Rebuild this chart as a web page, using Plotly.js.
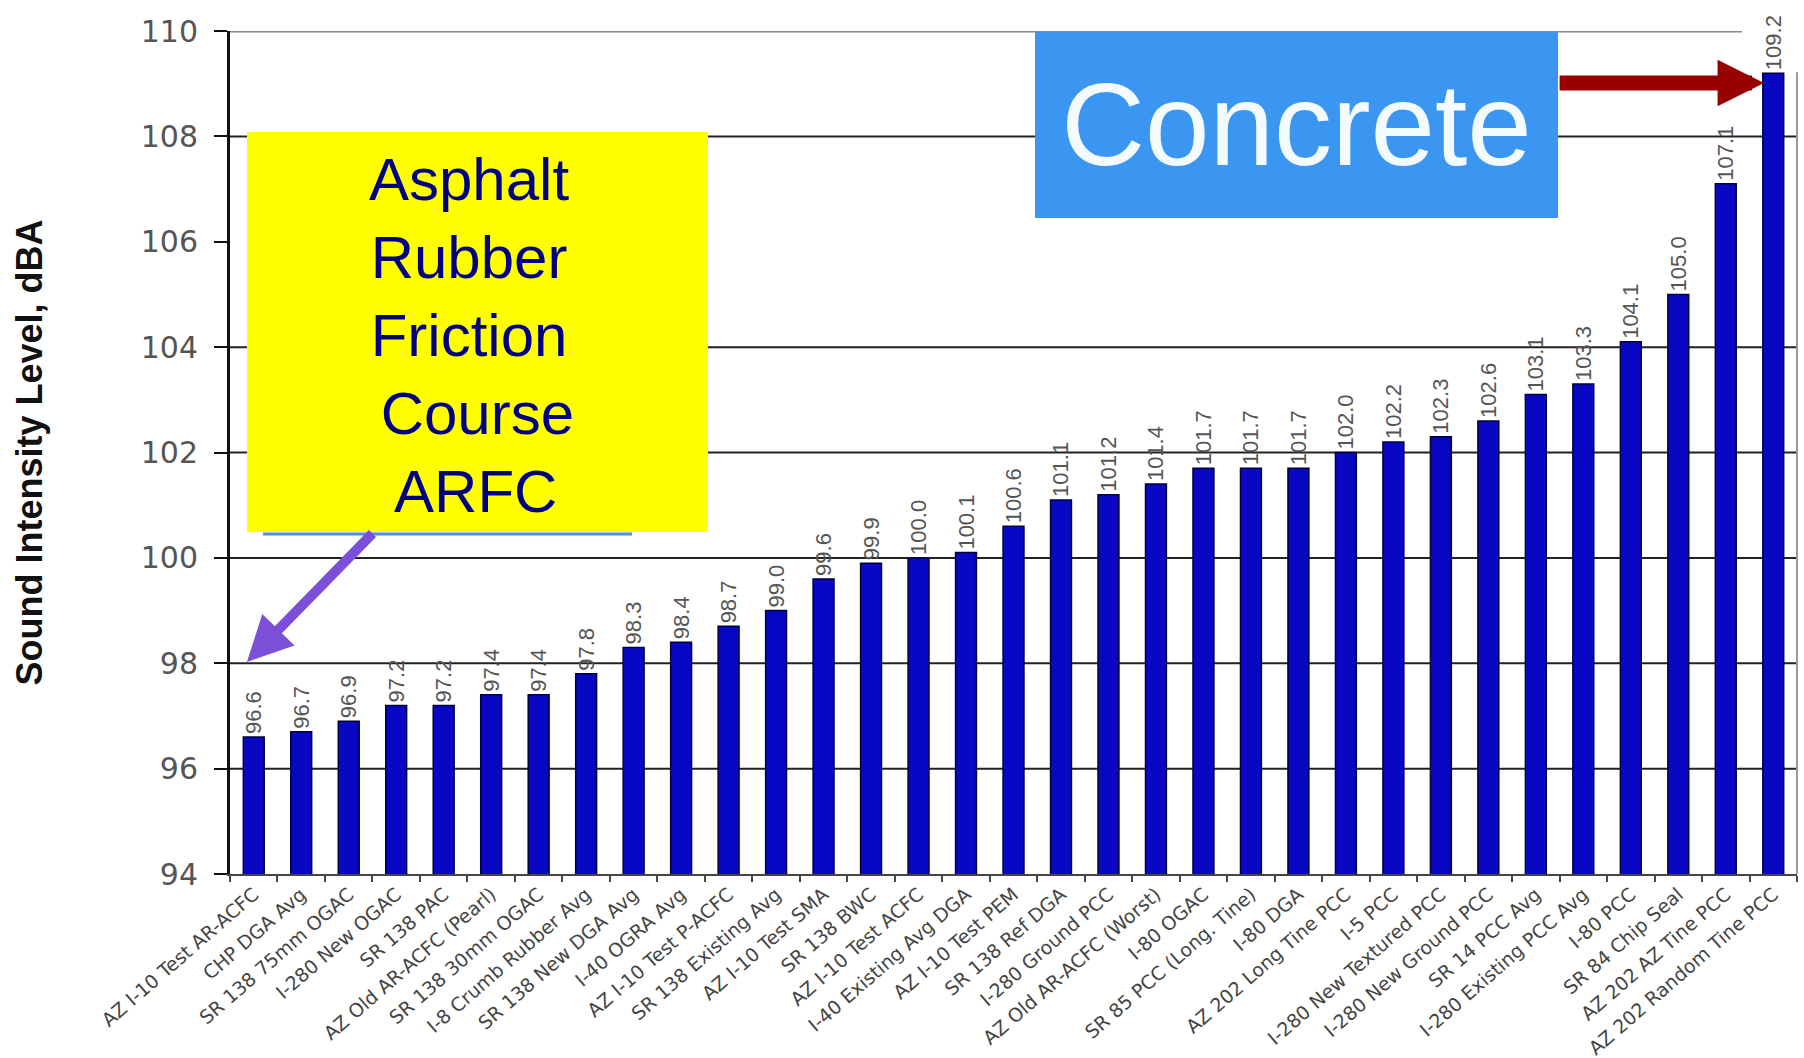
<!DOCTYPE html>
<html>
<head>
<meta charset="utf-8">
<script src="https://cdn.plot.ly/plotly-3.0.1.min.js"></script>
<style>
html,body{margin:0;padding:0;background:#fff;}
#chart{width:1804px;height:1058px;}
</style>
</head>
<body>
<div id="chart"></div>
<script>
const categories = [
  "AZ I-10 Test AR-ACFC", "CHP DGA Avg", "SR 138 75mm OGAC", "I-280 New OGAC",
  "SR 138 PAC", "AZ Old AR-ACFC (Pearl)", "SR 138 30mm OGAC", "I-8 Crumb Rubber Avg",
  "SR 138 New DGA Avg", "I-40 OGRA Avg", "AZ I-10 Test P-ACFC", "SR 138 Existing Avg",
  "AZ I-10 Test SMA", "SR 138 BWC", "AZ I-10 Test ACFC", "I-40 Existing Avg DGA",
  "AZ I-10 Test PEM", "SR 138 Ref DGA", "I-280 Ground PCC", "AZ Old AR-ACFC (Worst)",
  "I-80 OGAC", "SR 85 PCC (Long. Tine)", "I-80 DGA", "AZ 202 Long Tine PCC",
  "I-5 PCC", "I-280 New Textured PCC", "I-280 New Ground PCC", "SR 14 PCC Avg",
  "I-280 Existing PCC Avg", "I-80 PCC", "SR 84 Chip Seal", "AZ 202 AZ Tine PCC",
  "AZ 202 Random Tine PCC"
];
const soundLevels = [
  96.6, 96.7, 96.9, 97.2, 97.2, 97.4, 97.4, 97.8, 98.3, 98.4, 98.7, 99.0,
  99.6, 99.9, 100.0, 100.1, 100.6, 101.1, 101.2, 101.4, 101.7, 101.7, 101.7,
  102.0, 102.2, 102.3, 102.6, 103.1, 103.3, 104.1, 105.0, 107.1, 109.2
];
const yTicks = [94, 96, 98, 100, 102, 104, 106, 108, 110];
const gridLevels = [96, 98, 100, 102, 104, 108];
const yTitle = "Sound Intensity Level, dBA";
const arfcText = "Asphalt<br>Rubber<br>Friction<br> Course<br> ARFC";
const concreteText = "Concrete";

const trace = {
  type: 'bar',
  x: categories,
  y: soundLevels,
  marker: {color: '#0808c4', line: {color: '#00003a', width: 1.5}},
  texttemplate: '%{y:.1f}',
  textposition: 'outside',
  textangle: -90,
  constraintext: 'none',
  cliponaxis: false,
  textfont: {family: 'Liberation Sans, Arial, sans-serif', size: 22, color: '#555'},
  hoverinfo: 'x+y'
};

const shapes = gridLevels.map(v => ({
  type: 'line', xref: 'paper', yref: 'y', x0: 0, x1: 1, y0: v, y1: v,
  line: {color: '#222', width: 2}, layer: 'below'
}));
shapes.push({type: 'line', xref: 'paper', yref: 'y', x0: 0, x1: 0.965, y0: 110, y1: 110,
  line: {color: '#888', width: 3}, layer: 'below'});
shapes.push({type: 'line', xref: 'paper', yref: 'paper', x0: 1, x1: 1, y0: 0, y1: 0.951,
  line: {color: '#999', width: 2}, layer: 'below'});
// yellow box
shapes.push({type: 'rect', xref: 'paper', yref: 'paper', x0: 0.01085, x1: 0.3050, y0: 0.4057, y1: 0.8802,
  fillcolor: '#ffff00', line: {width: 0}, layer: 'above'});
shapes.push({type: 'line', xref: 'paper', yref: 'paper', x0: 0.0211, x1: 0.2565, y0: 0.4033, y1: 0.4033,
  line: {color: '#4a90e0', width: 3}});

const annotations = [
  {
    xref: 'paper', yref: 'paper', x: 0.1525, y: 0.6385, xanchor: 'center', yanchor: 'middle',
    text: arfcText, showarrow: false,
    font: {family: 'Liberation Sans, Arial, sans-serif', size: 60, color: '#000080'}
  },
  {
    xref: 'paper', yref: 'paper', x: 0.5137, y: 0.9988, xanchor: 'left', yanchor: 'top',
    text: concreteText, showarrow: false, width: 523, height: 186, bgcolor: '#3a96f0',
    borderpad: 0, borderwidth: 0,
    font: {family: 'Liberation Sans, Arial, sans-serif', size: 116, color: '#f4fbff'}
  },
  {
    xref: 'paper', yref: 'paper', x: 0.0108, y: 0.2515, text: '', showarrow: true,
    ax: 127, ay: -130, arrowcolor: '#7b4fd8', arrowwidth: 10, arrowhead: 2, arrowsize: 0.9
  },
  {
    xref: 'paper', yref: 'paper', x: 0.979, y: 0.9383, text: '', showarrow: true,
    ax: -206, ay: 0, arrowcolor: '#990000', arrowwidth: 15, arrowhead: 2, arrowsize: 0.62
  }
];

const layout = {
  width: 1804, height: 1058,
  margin: {l: 230, r: 7, t: 31, b: 184},
  paper_bgcolor: '#fff', plot_bgcolor: '#fff',
  showlegend: false,
  bargap: 0.56,
  xaxis: {
    type: 'category',
    tickangle: -41,
    tickson: 'boundaries',
    ticks: 'outside', ticklen: 6, tickwidth: 2, tickcolor: '#444',
    showline: true, linecolor: '#444', linewidth: 2,
    showgrid: false,
    tickfont: {family: 'DejaVu Sans, sans-serif', size: 19, color: '#444'}
  },
  yaxis: {
    range: [94, 110],
    tickvals: yTicks,
    ticks: 'outside', ticklen: 13, tickwidth: 2, tickcolor: '#111',
    ticklabelstandoff: 10,
    showline: true, linecolor: '#111', linewidth: 3,
    showgrid: false, zeroline: false,
    tickfont: {family: 'DejaVu Sans, sans-serif', size: 30, color: '#555'},
    automargin: true,
    title: {text: yTitle, standoff: 88,
      font: {family: 'Liberation Sans Narrow, Liberation Sans, Arial, sans-serif', size: 36, color: '#111', weight: 'bold'}}
  },
  shapes: shapes,
  annotations: annotations
};

Plotly.newPlot('chart', [trace], layout, {displayModeBar: false, staticPlot: true});
</script>
</body>
</html>
